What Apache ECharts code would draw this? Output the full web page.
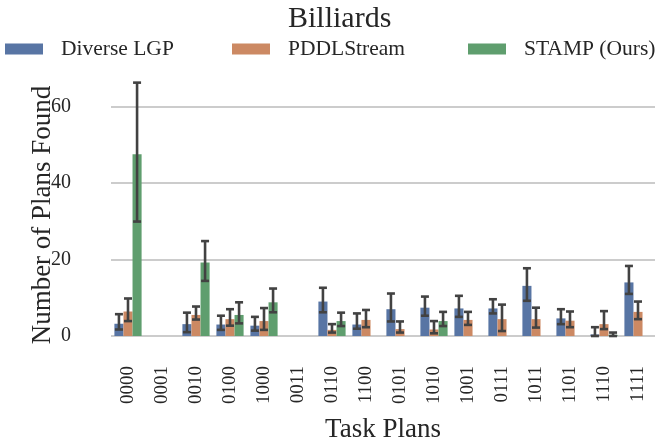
<!DOCTYPE html>
<html>
<head>
<meta charset="utf-8">
<script src="https://cdn.jsdelivr.net/npm/echarts@6/dist/echarts.min.js"></script>
<style>html,body{margin:0;padding:0;background:#fff}#c{width:658px;height:445px}</style>
</head>
<body>
<div id="c"></div>
<script>
const categories = ['0000','0001','0010','0100','1000','0011','0110','1100','0101','1010','1001','0111','1011','1101','1110','1111'];
const seriesNames = ['Diverse LGP','PDDLStream','STAMP (Ours)'];
const lgpMean  = [3.2, 0, 3.1, 3.0, 2.7, 0, 9.0, 3.0, 7.0, 7.4, 7.2, 7.2, 13.1, 4.6, 0.4, 14.0];
const lgpLow   = [1.7, null, 1.0, 1.6, 1.4, null, 6.2, 1.9, 3.8, 5.3, 5.0, 5.9, 9.2, 3.1, 0.0, 11.0];
const lgpHigh  = [5.7, null, 6.1, 5.3, 5.0, null, 12.6, 5.9, 11.1, 10.3, 10.5, 9.6, 17.7, 7.0, 2.3, 18.3];
const pddlMean = [6.4, 0, 5.5, 4.4, 3.9, 0, 1.6, 4.2, 1.8, 1.7, 4.2, 4.4, 4.4, 4.0, 3.1, 6.3];
const pddlLow  = [3.9, null, 4.3, 2.7, 1.6, null, 0.9, 2.3, 0.9, 0.7, 2.9, 1.3, 2.2, 2.3, 1.8, 4.4];
const pddlHigh = [9.8, null, 7.7, 7.0, 7.3, null, 3.1, 6.8, 3.8, 3.9, 6.3, 8.2, 7.4, 6.4, 6.5, 9.0];
const stampMean = [47.5, 0, 19.2, 5.5, 8.8, 0, 3.9, 0, 0, 3.9, 0, 0, 0, 0, 0.3, 0];
const stampLow  = [29.9, null, 14.4, 3.3, 6.2, null, 2.6, null, null, 2.6, null, null, null, null, 0.0, null];
const stampHigh = [66.2, null, 24.8, 8.8, 12.4, null, 6.1, null, null, 6.3, null, null, null, null, 0.9, null];
const yTicks = [0, 20, 40, 60];

const colors = ['#5875A4', '#CC8963', '#5F9E6E'];
const FONT = 'Liberation Serif';
const TXT = '#262626';
const means = [lgpMean, pddlMean, stampMean];
const lows = [lgpLow, pddlLow, stampLow];
const highs = [lgpHigh, pddlHigh, stampHigh];

const chart = echarts.init(document.getElementById('c'));

function errSeries(k) {
  const data = categories.map((c, i) => [i, lows[k][i], highs[k][i]]).filter(d => d[1] != null);
  return {
    type: 'custom',
    z: 10,
    silent: true,
    encode: { x: 0, y: [1, 2] },
    data: data,
    renderItem: function (params, api) {
      const idx = api.value(0);
      const lo = api.value(1), hi = api.value(2);
      const band = api.size([1, 0])[0];
      const bw = band * 0.8 / 3;
      const x = api.coord([idx, 0])[0] + (k - 1) * bw;
      const yLo = api.coord([idx, lo])[1];
      const yHi = api.coord([idx, hi])[1];
      const cap = 4;
      const st = { stroke: '#424242', lineWidth: 2.6 };
      return {
        type: 'group',
        children: [
          { type: 'line', shape: { x1: x, y1: yLo, x2: x, y2: yHi }, style: st },
          { type: 'line', shape: { x1: x - cap, y1: yHi, x2: x + cap, y2: yHi }, style: st },
          { type: 'line', shape: { x1: x - cap, y1: yLo, x2: x + cap, y2: yLo }, style: st }
        ]
      };
    }
  };
}

const legendLefts = [5, 232, 468];
const option = {
  animation: false,
  color: colors,
  title: {
    text: 'Billiards',
    left: 283,
    top: -1,
    textStyle: { fontFamily: FONT, fontSize: 30, fontWeight: 'normal', color: TXT }
  },
  legend: seriesNames.map((n, k) => ({
    data: [n],
    left: legendLefts[k],
    top: 38,
    padding: 0,
    itemWidth: 38,
    itemHeight: 11,
    icon: 'rect',
    textStyle: { fontFamily: FONT, fontSize: 21.5, color: TXT, padding: [0, 0, 0, 13] }
  })),
  grid: { left: 111, right: 3, top: 70, bottom: 109, containLabel: false, outerBoundsMode: 'none' },
  xAxis: {
    type: 'category',
    data: categories,
    name: 'Task Plans',
    nameLocation: 'middle',
    nameGap: 80,
    nameMoveOverlap: false,
    nameTextStyle: { fontFamily: FONT, fontSize: 27, color: TXT },
    axisLine: { show: false },
    axisTick: { show: false },
    axisLabel: { rotate: 90, margin: 30, fontFamily: FONT, fontSize: 19, color: TXT, interval: 0 }
  },
  yAxis: {
    type: 'value',
    min: 0,
    max: 69.5,
    interval: 20,
    name: 'Number of Plans Found',
    nameLocation: 'middle',
    nameGap: 55,
    nameMoveOverlap: false,
    nameTextStyle: { fontFamily: FONT, fontSize: 27, color: TXT, padding: [0, 24, 0, 0] },
    axisLine: { show: false },
    axisTick: { show: false },
    axisLabel: {
      margin: 40, fontFamily: FONT, fontSize: 20, color: TXT, showMaxLabel: false,
      formatter: v => (yTicks.indexOf(v) >= 0 ? String(v) : '')
    },
    splitLine: { show: true, showMaxLine: false, lineStyle: { color: '#cccccc', width: 2 } }
  },
  series: [
    ...seriesNames.map((n, k) => ({
      name: n,
      type: 'bar',
      data: means[k],
      barGap: '0%',
      barCategoryGap: '20%',
      itemStyle: { color: colors[k] }
    })),
    errSeries(0), errSeries(1), errSeries(2)
  ]
};
chart.setOption(option);
</script>
</body>
</html>
